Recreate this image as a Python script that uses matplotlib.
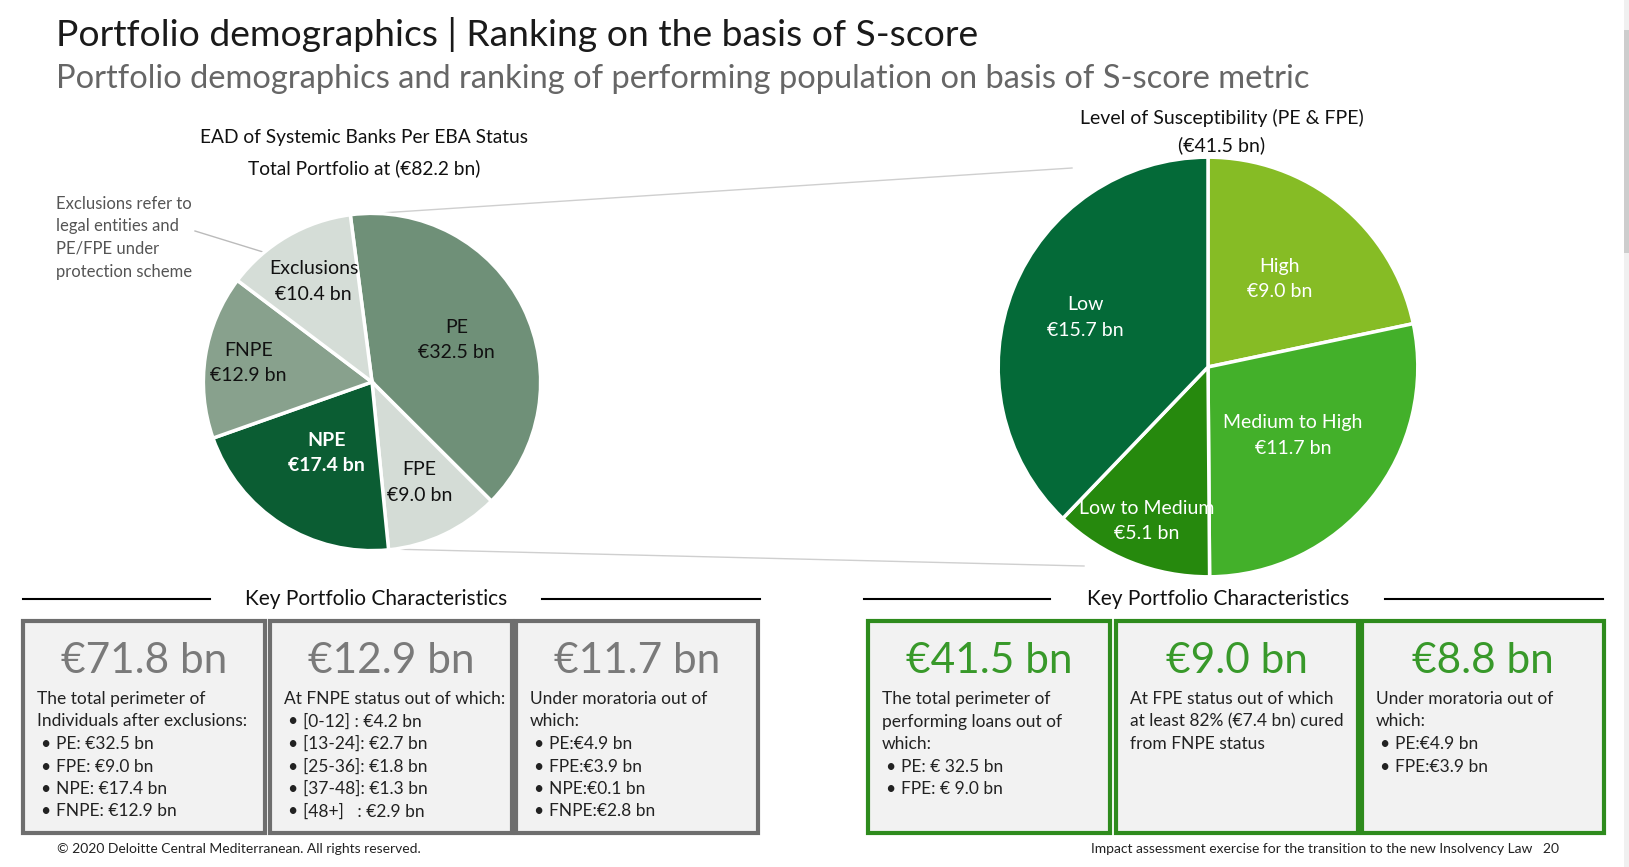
import numpy as np
import matplotlib
matplotlib.use("Agg")
import matplotlib.pyplot as plt
from matplotlib.patches import Rectangle

plt.rcParams['font.family'] = ['Lato', 'DejaVu Sans']

W, H = 1629, 867

# Datos del grafico izquierdo (EAD por estatus EBA)
eba_labels = ["PE", "FPE", "NPE", "FNPE", "Exclusions"]
eba_values = [32.5, 9.0, 17.4, 12.9, 10.4]
eba_colors = ["#6f9078", "#d4dcd6", "#0b5d33", "#88a18d", "#d5ddd7"]
eba_text_colors = ["#111111", "#111111", "white", "#111111", "#111111"]
eba_label_dist = [0.56, 0.66, 0.50, 0.74, 0.69]

# Datos del grafico derecho (nivel de susceptibilidad)
sus_labels = ["High", "Medium to High", "Low to Medium", "Low"]
sus_values = [9.0, 11.7, 5.1, 15.7]
sus_colors = ["#86bc25", "#43b02a", "#26890d", "#046a38"]
sus_label_dist = [0.54, 0.52, 0.79, 0.63]

# Recuadros de caracteristicas clave
box_headlines = ["€71.8 bn", "€12.9 bn", "€11.7 bn", "€41.5 bn", "€9.0 bn", "€8.8 bn"]
box_intro = [
    ["The total perimeter of", "Individuals after exclusions:"],
    ["At FNPE status out of which:"],
    ["Under moratoria out of", "which:"],
    ["The total perimeter of", "performing loans out of", "which:"],
    ["At FPE status out of which", "at least 82% (€7.4 bn) cured", "from FNPE status"],
    ["Under moratoria out of", "which:"],
]
box_bullets = [
    ["PE: €32.5 bn", "FPE: €9.0 bn", "NPE: €17.4 bn", "FNPE: €12.9 bn"],
    ["[0-12] : €4.2 bn", "[13-24]: €2.7 bn", "[25-36]: €1.8 bn", "[37-48]: €1.3 bn", "[48+]   : €2.9 bn"],
    ["PE:€4.9 bn", "FPE:€3.9 bn", "NPE:€0.1 bn", "FNPE:€2.8 bn"],
    ["PE: € 32.5 bn", "FPE: € 9.0 bn"],
    [],
    ["PE:€4.9 bn", "FPE:€3.9 bn"],
]
box_x = [23, 270, 516, 868, 1116, 1362]
box_w = 242

fig = plt.figure(figsize=(W / 100, H / 100), dpi=100)
fig.patch.set_facecolor("white")
ax = fig.add_axes([0, 0, 1, 1])
ax.set_xlim(0, W)
ax.set_ylim(H, 0)
ax.axis("off")

# Titulos
ax.text(56, 34, "Portfolio demographics | Ranking on the basis of S-score",
        fontsize=26.8, color="#1a1a1a", va="center")
ax.text(56, 79, "Portfolio demographics and ranking of performing population on basis of S-score metric",
        fontsize=23.5, color="#666666", va="center")

# Lineas que conectan los dos graficos
ax.plot([350, 1072], [215, 168], color="#cfcfcf", lw=1)
ax.plot([388, 1084], [549, 566], color="#cfcfcf", lw=1)


def draw_pie(cx, cy, r, values, colors, start, dists, labels, text_colors, bold):
    pax = fig.add_axes([(cx - r) / W, (H - cy - r) / H, 2 * r / W, 2 * r / H])
    wedges, _ = pax.pie(values, colors=colors, startangle=start, counterclock=False,
                        wedgeprops=dict(edgecolor="white", linewidth=2.5))
    pax.set_xlim(-1.02, 1.02)
    pax.set_ylim(-1.02, 1.02)
    pax.axis("off")
    for w, lab, val, d, tc, b in zip(wedges, labels, values, dists, text_colors, bold):
        ang = np.deg2rad((w.theta1 + w.theta2) / 2)
        pax.text(d * np.cos(ang), d * np.sin(ang), f"{lab}\n€{val:.1f} bn",
                 ha="center", va="center", fontsize=14, color=tc,
                 fontweight="bold" if b else "normal", linespacing=1.6)


draw_pie(372, 382, 172, eba_values, eba_colors, 97.4, eba_label_dist,
         eba_labels, eba_text_colors, [False, False, True, False, False])
draw_pie(1208, 367, 214, sus_values, sus_colors, 90, sus_label_dist,
         sus_labels, ["white"] * 4, [False] * 4)

# Titulos de los graficos
ax.text(364, 137, "EAD of Systemic Banks Per EBA Status", ha="center", va="center",
        fontsize=13.8, color="#111111")
ax.text(364, 168, "Total Portfolio at (€82.2 bn)", ha="center", va="center",
        fontsize=13.8, color="#111111")
ax.text(1222, 118, "Level of Susceptibility (PE & FPE)", ha="center", va="center",
        fontsize=14, color="#111111")
ax.text(1222, 145, "(€41.5 bn)", ha="center", va="center",
        fontsize=14, color="#111111")

# Nota de exclusiones
ax.text(56, 196, "Exclusions refer to\nlegal entities and\nPE/FPE under\nprotection scheme",
        va="top", fontsize=12, color="#555555", linespacing=1.5)
ax.plot([195, 289], [231, 260], color="#bbbbbb", lw=1)

# Encabezados "Key Portfolio Characteristics"
for cx, l1, l2 in [(376, (23, 210), (542, 760)), (1218, (864, 1050), (1385, 1603))]:
    ax.text(cx, 599, "Key Portfolio Characteristics", ha="center", va="center",
            fontsize=15, color="#111111")
    ax.plot(l1, [599, 599], color="black", lw=1.5)
    ax.plot(l2, [599, 599], color="black", lw=1.5)

# Recuadros
for i in range(6):
    x = box_x[i]
    edge = "#6e6e6e" if i < 3 else "#2e8b1d"
    num_color = "#7a7a7a" if i < 3 else "#38992a"
    ax.add_patch(Rectangle((x, 621), box_w, 212, facecolor="#f2f2f2",
                           edgecolor=edge, lw=3))
    ax.text(x + box_w / 2, 661, box_headlines[i], ha="center", va="center",
            fontsize=30.5, color=num_color)
    y = 699
    for line in box_intro[i]:
        ax.text(x + 14, y, line, va="center", fontsize=12.5, color="#222222")
        y += 22.5
    for line in box_bullets[i]:
        ax.text(x + 17, y, "•", va="center", fontsize=12.5, color="#222222")
        ax.text(x + 33, y, line, va="center", fontsize=12.5, color="#222222")
        y += 22.5

# Pie de pagina
ax.text(57, 849, "© 2020 Deloitte Central Mediterranean. All rights reserved.",
        va="center", fontsize=10, color="#222222")
ax.text(1559, 849, "Impact assessment exercise for the transition to the new Insolvency Law   20",
        va="center", ha="right", fontsize=10, color="#222222")

# Barra lateral
ax.add_patch(Rectangle((1624, 0), 5, H, facecolor="#f0f0f0", edgecolor="none"))
ax.add_patch(Rectangle((1624, 30), 5, 223, facecolor="#cdcdcd", edgecolor="none"))

fig.savefig("out.png", dpi=100, facecolor="white")
